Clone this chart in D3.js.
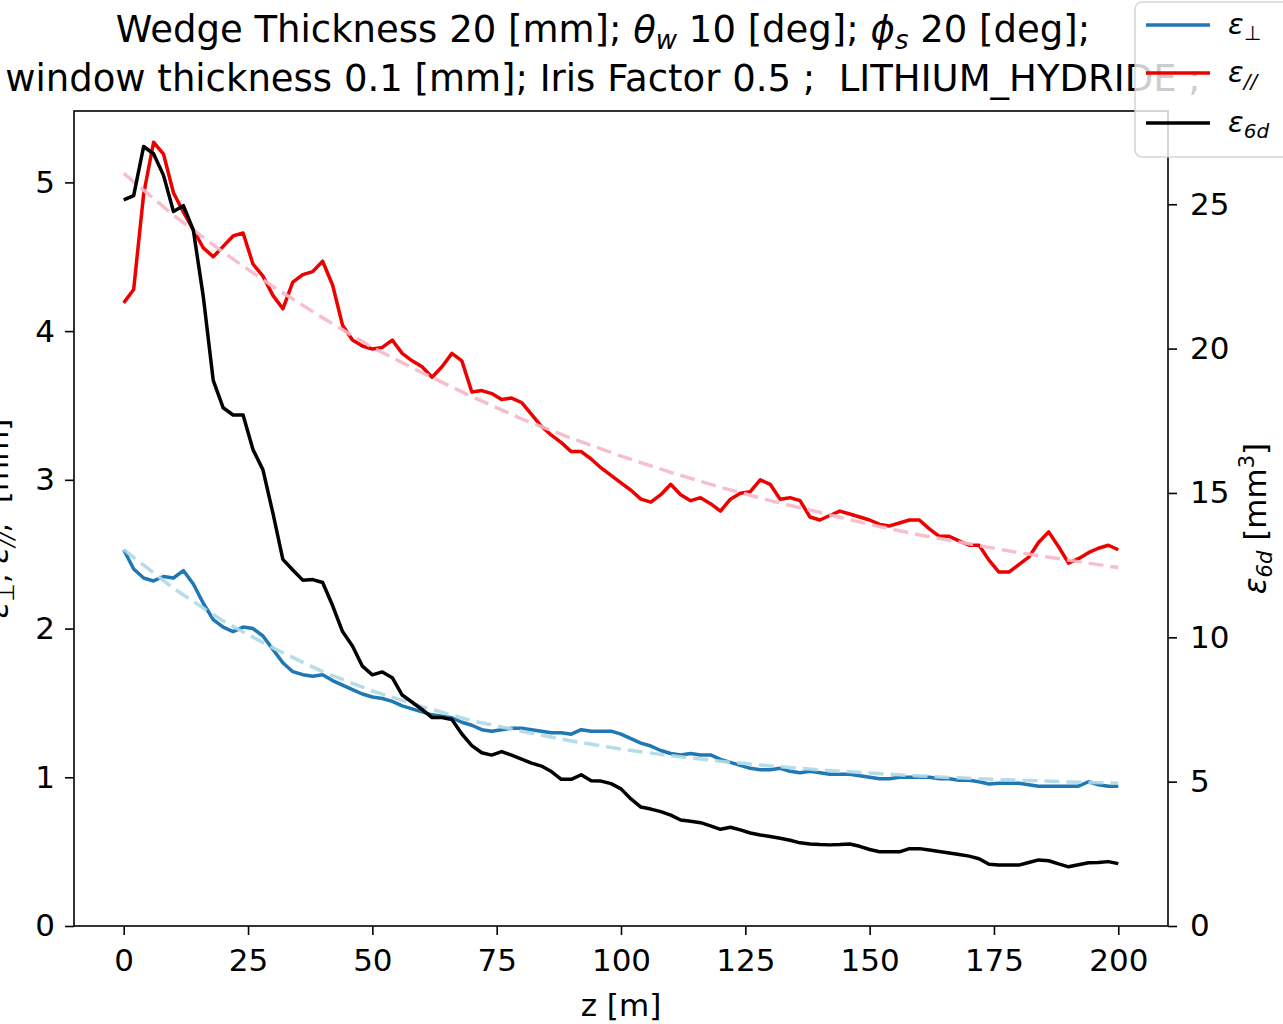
<!DOCTYPE html>
<html>
<head>
<meta charset="utf-8">
<script src="https://cdn.jsdelivr.net/npm/d3@7"></script>
<style>
  body { margin: 0; background: #fff; }
  text { font-family: "DejaVu Sans", sans-serif; fill: #000; white-space: pre; }
</style>
</head>
<body>
<svg id="chart" width="1283" height="1024"></svg>
<script>
// z positions along the channel [m]
const zSteps = [0, 2, 4, 6, 8, 10, 12, 14, 16, 18, 20, 22, 24, 26, 28, 30, 32, 34, 36, 38,
    40, 42, 44, 46, 48, 50, 52, 54, 56, 58, 60, 62, 64, 66, 68, 70, 72, 74, 76, 78,
    80, 82, 84, 86, 88, 90, 92, 94, 96, 98, 100, 102, 104, 106, 108, 110, 112, 114, 116, 118,
    120, 122, 124, 126, 128, 130, 132, 134, 136, 138, 140, 142, 144, 146, 148, 150, 152, 154, 156, 158,
    160, 162, 164, 166, 168, 170, 172, 174, 176, 178, 180, 182, 184, 186, 188, 190, 192, 194, 196, 198, 200];

// transverse emittance [mm]
const epsPerp = [2.53, 2.40, 2.34, 2.32, 2.35, 2.34, 2.39, 2.30, 2.17, 2.06, 2.01, 1.98, 2.01, 2.00, 1.95, 1.86, 1.77, 1.71, 1.69, 1.68,
    1.69, 1.65, 1.62, 1.59, 1.56, 1.54, 1.53, 1.51, 1.48, 1.46, 1.44, 1.42, 1.41, 1.40, 1.37, 1.35, 1.32, 1.31, 1.32, 1.33,
    1.33, 1.32, 1.31, 1.30, 1.30, 1.29, 1.32, 1.31, 1.31, 1.31, 1.29, 1.26, 1.23, 1.21, 1.18, 1.16, 1.15, 1.16, 1.15, 1.15,
    1.12, 1.10, 1.08, 1.06, 1.05, 1.05, 1.06, 1.04, 1.03, 1.04, 1.03, 1.02, 1.02, 1.02, 1.01, 1.00, 0.99, 0.99, 1.00, 1.00,
    1.00, 1.00, 0.99, 0.99, 0.98, 0.98, 0.97, 0.955, 0.96, 0.96, 0.96, 0.95, 0.94, 0.94, 0.94, 0.94, 0.94, 0.97, 0.95, 0.94, 0.94];

// longitudinal emittance [mm]
const epsPar = [4.19, 4.28, 4.92, 5.27, 5.19, 4.93, 4.80, 4.68, 4.56, 4.50, 4.57, 4.64, 4.66, 4.45, 4.37, 4.24, 4.15, 4.33, 4.38, 4.40,
    4.47, 4.31, 4.04, 3.94, 3.90, 3.88, 3.89, 3.94, 3.85, 3.80, 3.76, 3.69, 3.76, 3.85, 3.80, 3.59, 3.60, 3.58, 3.54, 3.55,
    3.52, 3.44, 3.36, 3.30, 3.25, 3.19, 3.19, 3.14, 3.08, 3.03, 2.98, 2.93, 2.87, 2.85, 2.90, 2.97, 2.90, 2.86, 2.88, 2.84,
    2.79, 2.87, 2.91, 2.92, 3.00, 2.97, 2.87, 2.88, 2.86, 2.75, 2.73, 2.76, 2.79, 2.77, 2.75, 2.73, 2.70, 2.69, 2.71, 2.73,
    2.73, 2.67, 2.62, 2.62, 2.59, 2.56, 2.56, 2.46, 2.38, 2.38, 2.43, 2.48, 2.58, 2.65, 2.55, 2.44, 2.47, 2.51, 2.54, 2.56, 2.53];

// 6D emittance [mm^3]
const eps6d = [25.15, 25.3, 27.0, 26.75, 26.0, 24.75, 24.95, 24.1, 21.8, 18.9, 17.95, 17.7, 17.7, 16.5, 15.8, 14.3, 12.7, 12.33, 11.98, 12.0,
    11.9, 11.1, 10.2, 9.7, 9.0, 8.7, 8.8, 8.6, 8.0, 7.75, 7.5, 7.22, 7.22, 7.15, 6.65, 6.25, 6.0, 5.92, 6.04, 5.92,
    5.78, 5.64, 5.54, 5.35, 5.08, 5.08, 5.24, 5.03, 5.02, 4.93, 4.75, 4.4, 4.12, 4.05, 3.96, 3.84, 3.67, 3.63, 3.58, 3.47,
    3.35, 3.42, 3.33, 3.22, 3.15, 3.10, 3.04, 2.97, 2.88, 2.84, 2.82, 2.81, 2.82, 2.84, 2.76, 2.65, 2.57, 2.57, 2.57, 2.68,
    2.68, 2.63, 2.58, 2.53, 2.48, 2.42, 2.33, 2.14, 2.11, 2.11, 2.11, 2.2, 2.29, 2.26, 2.15, 2.05, 2.12, 2.19, 2.2, 2.23, 2.16];

// dashed fit curves
const zFit = [0, 10, 20, 30, 40, 50, 60, 70, 80, 90, 100, 110, 120, 130, 140, 150, 160, 170, 180, 190, 200];
const epsPerpFit = [2.53, 2.27, 2.05, 1.87, 1.71, 1.58, 1.475, 1.38, 1.31, 1.244, 1.19, 1.145, 1.108, 1.076, 1.05, 1.028, 1.009, 0.993, 0.98, 0.969, 0.96];
const epsParFit = [5.06, 4.78, 4.53, 4.30, 4.09, 3.89, 3.72, 3.56, 3.41, 3.28, 3.16, 3.05, 2.95, 2.86, 2.78, 2.70, 2.63, 2.57, 2.51, 2.46, 2.41];

const xTicks = [0, 25, 50, 75, 100, 125, 150, 175, 200];
const yLeftTicks = [0, 1, 2, 3, 4, 5];
const yRightTicks = [0, 5, 10, 15, 20, 25];

const width = 1283, height = 1024;
const margin = { top: 111, right: 115, bottom: 98, left: 74 };
const plotW = width - margin.left - margin.right;
const plotH = height - margin.top - margin.bottom;

const svg = d3.select("#chart");

const x = d3.scaleLinear().domain([-10, 210]).range([margin.left, margin.left + plotW]);
const yL = d3.scaleLinear().domain([0, 5.48]).range([margin.top + plotH, margin.top]);
const yR = d3.scaleLinear().domain([0, 28.23]).range([margin.top + plotH, margin.top]);

const tickFont = 31;
const lw = 3.5;

// axes
const xAxis = svg.append("g")
    .attr("transform", `translate(0, ${margin.top + plotH})`)
    .call(d3.axisBottom(x).tickValues(xTicks).tickFormat(d3.format("d")).tickSize(9).tickPadding(14));
const yAxisL = svg.append("g")
    .attr("transform", `translate(${margin.left}, 0)`)
    .call(d3.axisLeft(yL).tickValues(yLeftTicks).tickFormat(d3.format("d")).tickSize(9).tickPadding(10));
const yAxisR = svg.append("g")
    .attr("transform", `translate(${margin.left + plotW}, 0)`)
    .call(d3.axisRight(yR).tickValues(yRightTicks).tickFormat(d3.format("d")).tickSize(9).tickPadding(13));

[xAxis, yAxisL, yAxisR].forEach(g => {
    g.select(".domain").remove();
    g.selectAll(".tick line").attr("stroke", "#000").attr("stroke-width", 1.6);
    g.selectAll(".tick text")
        .attr("font-size", tickFont)
        .attr("font-family", "DejaVu Sans")
        .attr("fill", "#222");
});

// lines
const lineL = (vals, zs) => d3.line().x((d, i) => x(zs[i])).y(d => yL(d))(vals);
const lineR = (vals, zs) => d3.line().x((d, i) => x(zs[i])).y(d => yR(d))(vals);

const plot = svg.append("g");

plot.append("path")
    .attr("d", lineL(epsPerp, zSteps))
    .attr("fill", "none").attr("stroke", "#1f77b4").attr("stroke-width", lw)
    .attr("stroke-linejoin", "round");
plot.append("path")
    .attr("d", lineL(epsPerpFit, zFit))
    .attr("fill", "none").attr("stroke", "#add8e6").attr("stroke-width", lw)
    .attr("stroke-dasharray", "15,7").attr("opacity", 0.9);

plot.append("path")
    .attr("d", lineL(epsPar, zSteps))
    .attr("fill", "none").attr("stroke", "#ee0000").attr("stroke-width", lw)
    .attr("stroke-linejoin", "round");
plot.append("path")
    .attr("d", lineL(epsParFit, zFit))
    .attr("fill", "none").attr("stroke", "#f5b8c8").attr("stroke-width", lw)
    .attr("stroke-dasharray", "15,7").attr("opacity", 0.9);

plot.append("path")
    .attr("d", lineR(eps6d, zSteps))
    .attr("fill", "none").attr("stroke", "#000").attr("stroke-width", lw)
    .attr("stroke-linejoin", "round");

// frame
svg.append("rect")
    .attr("x", margin.left).attr("y", margin.top)
    .attr("width", plotW).attr("height", plotH)
    .attr("fill", "none").attr("stroke", "#000").attr("stroke-width", 1.6);

// axis labels
svg.append("text")
    .attr("x", x(100)).attr("y", 1016)
    .attr("text-anchor", "middle").attr("font-size", tickFont).attr("fill", "#222")
    .text("z [m]");

const leftLabel = svg.append("text")
    .attr("transform", `translate(8, ${margin.top + plotH / 2}) rotate(-90)`)
    .attr("text-anchor", "middle").attr("font-size", tickFont).attr("fill", "#222");
leftLabel.append("tspan").attr("font-style", "italic").text("ε");
leftLabel.append("tspan").attr("font-size", 21).attr("baseline-shift", -6).text("⊥");
leftLabel.append("tspan").text(", ");
leftLabel.append("tspan").attr("font-style", "italic").text("ε");
leftLabel.append("tspan").attr("font-size", 21).attr("font-style", "italic").attr("baseline-shift", -6).text("//");
leftLabel.append("tspan").text(",  [mm]");

const rightLabel = svg.append("text")
    .attr("transform", `translate(1266, ${margin.top + plotH / 2}) rotate(-90)`)
    .attr("text-anchor", "middle").attr("font-size", tickFont).attr("fill", "#222");
rightLabel.append("tspan").attr("font-style", "italic").text("ε");
rightLabel.append("tspan").attr("font-size", 21).attr("font-style", "italic").attr("baseline-shift", -6).text("6d");
rightLabel.append("tspan").text(" [mm");
rightLabel.append("tspan").attr("font-size", 21).attr("baseline-shift", 12).text("3");
rightLabel.append("tspan").text("]");

// title
const titleFont = 37;
const t1 = svg.append("text")
    .attr("x", 603).attr("y", 42)
    .attr("text-anchor", "middle").attr("font-size", titleFont);
t1.append("tspan").text("Wedge Thickness 20 [mm]; ");
t1.append("tspan").attr("font-style", "italic").text("θ");
t1.append("tspan").attr("font-style", "italic").attr("font-size", 26).attr("baseline-shift", -7).text("w");
t1.append("tspan").text(" 10 [deg]; ");
t1.append("tspan").attr("font-style", "italic").text("ϕ");
t1.append("tspan").attr("font-style", "italic").attr("font-size", 26).attr("baseline-shift", -7).text("s");
t1.append("tspan").text(" 20 [deg];");

svg.append("text")
    .attr("x", 603).attr("y", 91)
    .attr("text-anchor", "middle").attr("font-size", titleFont)
    .text("window thickness 0.1 [mm]; Iris Factor 0.5 ;  LITHIUM_HYDRIDE ;");

// legend
const legend = svg.append("g");
legend.append("rect")
    .attr("x", 1135).attr("y", 2).attr("width", 170).attr("height", 155).attr("rx", 7)
    .attr("fill", "#fff").attr("fill-opacity", 0.8)
    .attr("stroke", "#ccc").attr("stroke-opacity", 0.8).attr("stroke-width", 1.6);

const legendItems = [
    { color: "#1f77b4", sub: "⊥", subItalic: false },
    { color: "#ee0000", sub: "//", subItalic: true },
    { color: "#000", sub: "6d", subItalic: true }
];
const legendY = [25, 73, 123];
legendItems.forEach((item, i) => {
    legend.append("line")
        .attr("x1", 1146).attr("x2", 1210)
        .attr("y1", legendY[i]).attr("y2", legendY[i])
        .attr("stroke", item.color).attr("stroke-width", lw);
    const lt = legend.append("text")
        .attr("x", 1228).attr("y", legendY[i] + 9)
        .attr("font-size", 29).attr("fill", "#222");
    lt.append("tspan").attr("font-style", "italic").text("ε");
    lt.append("tspan").attr("font-size", 20)
        .attr("font-style", item.subItalic ? "italic" : "normal")
        .attr("baseline-shift", -6).text(item.sub);
});
</script>
</body>
</html>
